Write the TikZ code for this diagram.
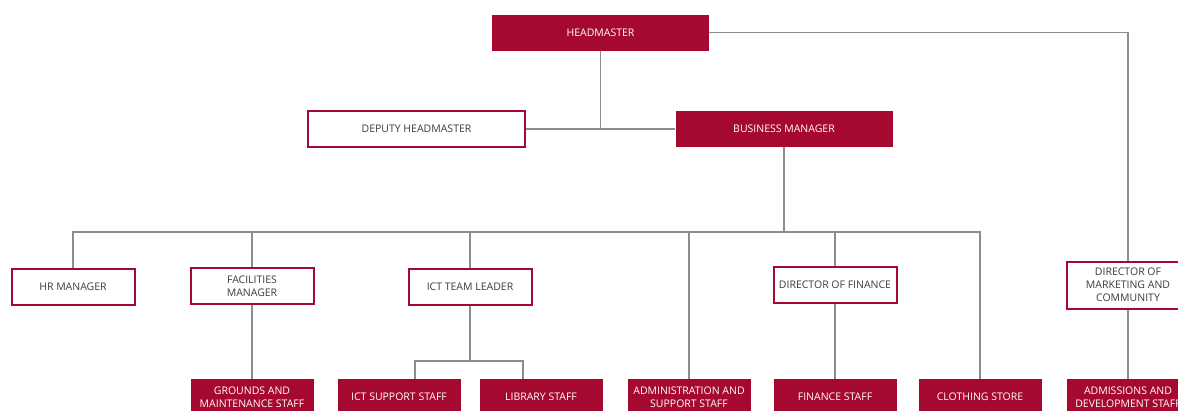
\documentclass[tikz,border=0pt]{standalone}
\usepackage{fontspec}
\setmainfont{Open Sans}
\definecolor{crimson}{HTML}{A6092F}
\definecolor{linkgray}{HTML}{8C8C8C}
\definecolor{txtgray}{HTML}{3C3C3C}

\begin{document}
\begin{tikzpicture}[x=1pt, y=-1pt,
    filled/.style={fill=crimson, text=white, inner sep=0pt, align=center,
        font=\fontsize{10.5}{13}\selectfont},
    framed/.style={draw=crimson, line width=2pt, fill=white, text=txtgray,
        inner sep=0pt, align=center, font=\fontsize{10.5}{13}\selectfont},
    widebox/.style={minimum width=217, minimum height=36},
    smallbox/.style={minimum width=123, minimum height=36},
    link/.style={draw=linkgray, line width=1.1pt}]
    \useasboundingbox (0,0) rectangle (1178,410);
    \clip (0,0) rectangle (1178,410);

    % top levels
    \node[filled, widebox] (hm) at (600.5,32.5) {HEADMASTER};
    \node[framed, widebox] (dep) at (416.5,129) {DEPUTY HEADMASTER};
    \node[filled, widebox] (bm) at (784,129) {BUSINESS MANAGER};

    % managers
    \node[framed, smallbox] (hr) at (73,287) {HR MANAGER};
    \node[framed, smallbox] (fac) at (252,286) {FACILITIES\\MANAGER};
    \node[framed, smallbox] (ict) at (470,287) {ICT TEAM LEADER};
    \node[framed, smallbox] (dof) at (835,285) {DIRECTOR OF FINANCE};
    \node[framed, smallbox, minimum height=47] (mkt) at (1128,285)
        {DIRECTOR OF\\MARKETING AND\\COMMUNITY};

    % staff
    \node[filled, smallbox] (gms) at (252,397) {GROUNDS AND\\MAINTENANCE STAFF};
    \node[filled, smallbox] (ics) at (399,397) {ICT SUPPORT STAFF};
    \node[filled, smallbox] (lib) at (541,397) {LIBRARY STAFF};
    \node[filled, smallbox] (adm) at (689,397) {ADMINISTRATION AND\\SUPPORT STAFF};
    \node[filled, smallbox] (fs) at (835,397) {FINANCE STAFF};
    \node[filled, smallbox] (cs) at (980,397) {CLOTHING STORE};
    \node[filled, smallbox] (ads) at (1128,397) {ADMISSIONS AND\\DEVELOPMENT STAFF};

    \coordinate (bus) at (784,232);
    \coordinate (ictl) at (415,361);
    \coordinate (ictr) at (523,361);

    % connectors
    \draw[link] (hm.south) -- (hm.south |- dep.east);
    \draw[link] (dep.east) -- (bm.west);
    \draw[link] (hm.east) -| (mkt.north);
    \draw[link] (bm.south) -- (bus);
    \draw[link] (hr.north) |- (bus) -| (cs.north);
    \foreach \n in {fac, ict, adm, dof}
        \draw[link] (\n.north |- bus) -- (\n.north);
    \draw[link] (fac.south) -- (gms.north);
    \draw[link] (dof.south) -- (fs.north);
    \draw[link] (mkt.south) -- (ads.north);
    \draw[link] (ict.south) -- (ict.south |- ictl);
    \draw[link] (ictl |- ics.north) -- (ictl) -- (ictr) -- (ictr |- lib.north);
\end{tikzpicture}
\end{document}
